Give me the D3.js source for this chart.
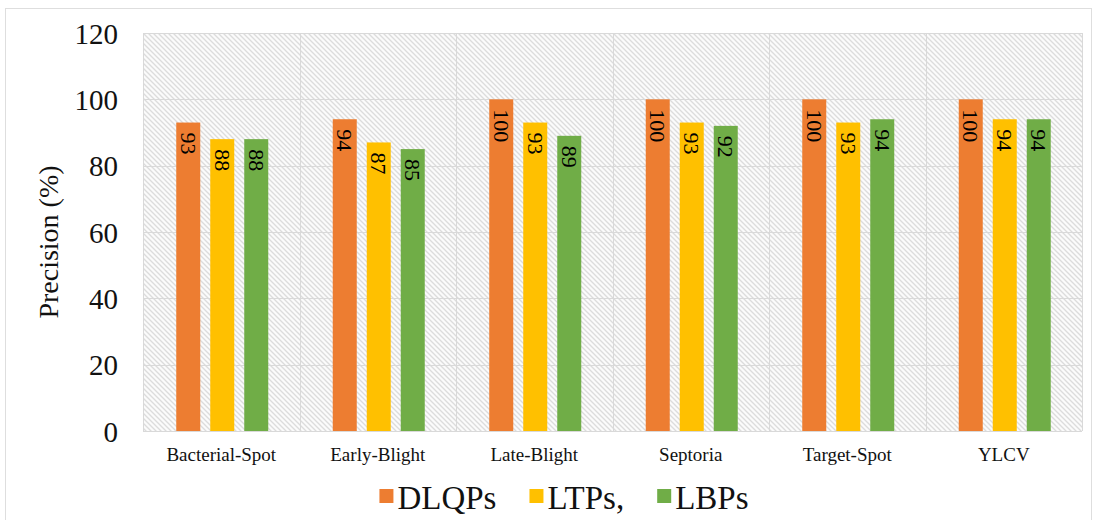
<!DOCTYPE html>
<html>
<head>
<meta charset="utf-8">
<script src="https://cdn.jsdelivr.net/npm/d3@7"></script>
<style>
  html, body { margin: 0; padding: 0; background: #fff; }
  svg { display: block; }
</style>
</head>
<body>
<svg id="chart" width="1096" height="520"></svg>
<script>
// Disease classes and precision per descriptor
const categories = ["Bacterial-Spot", "Early-Blight", "Late-Blight", "Septoria", "Target-Spot", "YLCV"];
const seriesNames = ["DLQPs", "LTPs,", "LBPs"];
const dlqps = [93, 94, 100, 100, 100, 100];
const ltps  = [88, 87, 93, 93, 93, 94];
const lbps  = [88, 85, 89, 92, 94, 94];
const yTicks = [0, 20, 40, 60, 80, 100, 120];
const colors = ["#ED7D31", "#FFC000", "#70AD47"];

const seriesValues = [dlqps, ltps, lbps];
const SERIF = "'Liberation Serif', 'DejaVu Serif', 'Times New Roman', Times, serif";

const svg = d3.select("#chart").attr("font-family", SERIF);
const plot = { left: 143, right: 1082, top: 33, bottom: 431 };

// outer frame
svg.append("rect")
  .attr("x", 5.5).attr("y", 8.5).attr("width", 1086).attr("height", 530)
  .attr("fill", "#fff").attr("stroke", "#dedede").attr("stroke-width", 1);

// diagonal hatch used for the plot background
const defs = svg.append("defs");
const pat = defs.append("pattern")
  .attr("id", "hatch").attr("patternUnits", "userSpaceOnUse")
  .attr("width", 5).attr("height", 5);
pat.append("rect").attr("width", 5).attr("height", 5).attr("fill", "#fbfbfb");
pat.append("path")
  .attr("d", "M-1,-1 L6,6 M-1,4 L1,6 M4,-1 L6,1")
  .attr("stroke", "#dcdcdc").attr("stroke-width", 1.3);

const x0 = d3.scaleBand().domain(categories).range([plot.left, plot.right]).paddingInner(0).paddingOuter(0);
const y = d3.scaleLinear().domain([0, 120]).range([plot.bottom, plot.top]);

svg.append("rect")
  .attr("x", plot.left).attr("y", plot.top)
  .attr("width", plot.right - plot.left).attr("height", plot.bottom - plot.top)
  .attr("fill", "url(#hatch)");

// horizontal gridlines
svg.append("g").selectAll("line").data(yTicks).join("line")
  .attr("x1", plot.left).attr("x2", plot.right)
  .attr("y1", d => Math.round(y(d)) + 0.5).attr("y2", d => Math.round(y(d)) + 0.5)
  .attr("stroke", "#d9d9d9").attr("stroke-width", 1);

// vertical category separators
const seps = categories.map(c => x0(c)).concat([plot.right]);
svg.append("g").selectAll("line").data(seps).join("line")
  .attr("x1", d => Math.round(d) + 0.5).attr("x2", d => Math.round(d) + 0.5)
  .attr("y1", plot.top).attr("y2", plot.bottom)
  .attr("stroke", "#d9d9d9").attr("stroke-width", 1);

// bars: 24px wide with 10px gaps, centred in each band
const barW = 24, gap = 10;
const groupW = barW * 3 + gap * 2;
const x1 = d3.scaleBand().domain(d3.range(3)).range([0, groupW]).paddingInner(gap / (barW + gap)).paddingOuter(0);

const rows = [];
categories.forEach((c, i) => {
  seriesValues.forEach((vals, s) => rows.push({ c, s, v: vals[i] }));
});
const barX = d => x0(d.c) + (x0.bandwidth() - groupW) / 2 + x1(d.s) + 1;

const g = svg.append("g");
g.selectAll("rect").data(rows).join("rect")
  .attr("x", barX)
  .attr("y", d => y(d.v))
  .attr("width", x1.bandwidth())
  .attr("height", d => y(0) - y(d.v))
  .attr("fill", d => colors[d.s]);

// value labels, rotated to read top to bottom inside each bar
g.selectAll("text").data(rows).join("text")
  .attr("transform", d => `translate(${barX(d) + x1.bandwidth() / 2},${y(d.v) + 10}) rotate(90)`)
  .attr("dominant-baseline", "central")
  .attr("text-anchor", "start")
  .attr("fill", "#000")
  .style("font-family", SERIF)
  .style("font-size", "22px")
  .text(d => d.v);

// y-axis tick labels
const yAxis = d3.axisLeft(y).tickValues(yTicks).tickSize(0).tickPadding(0);
const ya = svg.append("g").attr("transform", "translate(118,0)").call(yAxis);
ya.attr("font-family", SERIF);
ya.select(".domain").remove();
ya.selectAll("text").style("font-family", SERIF).style("font-size", "29px").attr("fill", "#111").attr("dy", "0.35em");

// x-axis category labels
const xAxis = d3.axisBottom(x0).tickSize(0).tickPadding(0);
const xa = svg.append("g").attr("transform", "translate(0,447)").call(xAxis);
xa.attr("font-family", SERIF);
xa.select(".domain").remove();
xa.selectAll("text").style("font-family", SERIF).style("font-size", "19px").attr("fill", "#111").attr("dy", "0.71em");

// y-axis title
svg.append("text")
  .attr("transform", `translate(48,${(plot.top + plot.bottom) / 2 + 10}) rotate(-90)`)
  .attr("text-anchor", "middle").attr("dominant-baseline", "central")
  .attr("fill", "#111")
  .style("font-family", SERIF)
  .style("font-size", "28px")
  .text("Precision (%)");

// legend
const leg = svg.append("g");
const items = leg.selectAll("g").data(seriesNames).join("g");
items.append("rect").attr("width", 14).attr("height", 14).attr("y", -7)
  .attr("fill", (d, i) => colors[i]);
items.append("text").attr("x", 18).attr("dominant-baseline", "central")
  .attr("dy", "0.05em").attr("fill", "#111")
  .style("font-family", SERIF)
  .style("font-size", "33px").text(d => d);
let cursor = 0;
const offsets = [];
items.each(function () {
  offsets.push(cursor);
  const w = 18 + d3.select(this).select("text").node().getComputedTextLength();
  cursor += w + 33;
});
const totalW = cursor - 33;
const legStart = 564 - totalW / 2;
items.attr("transform", (d, i) => `translate(${legStart + offsets[i]},496)`);
</script>
</body>
</html>
